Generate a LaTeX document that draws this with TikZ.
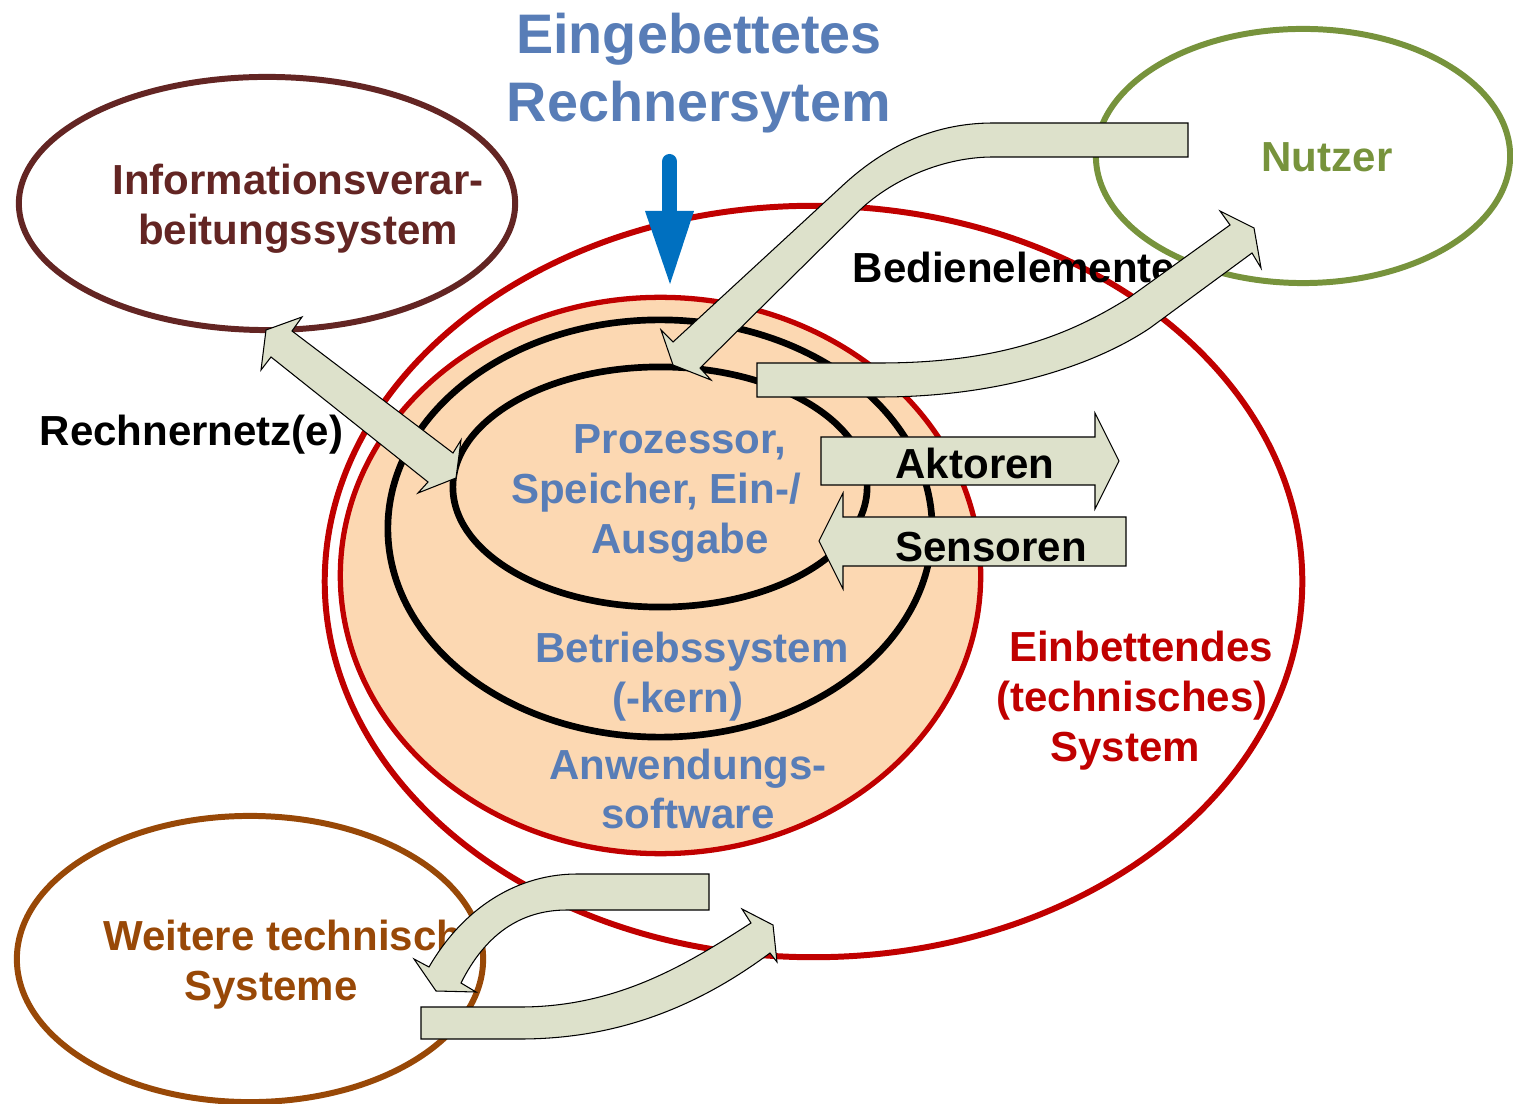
\documentclass[tikz,border=0pt]{standalone}
\usepackage{fontspec}
\setmainfont{Liberation Sans}
\usetikzlibrary{shapes.geometric}

\definecolor{infobrown}{HTML}{632523}
\definecolor{usergreen}{HTML}{77933C}
\definecolor{techbrown}{HTML}{984807}
\definecolor{sysred}{HTML}{C00000}
\definecolor{peach}{HTML}{FCD8B2}
\definecolor{textblue}{HTML}{587DB7}
\definecolor{arrowfill}{HTML}{DDE1CB}
\definecolor{pointerblue}{HTML}{0070C0}

\begin{document}
\begin{tikzpicture}[x=0.01cm,y=-0.01cm,
  sysring/.style={ellipse, inner sep=0pt, outer sep=0pt, line width=1.7pt},
  lbl/.style={inner sep=0pt, align=center, font=\fontsize{11.95}{14.2}\selectfont\bfseries},
  titlelbl/.style={inner sep=0pt, align=center, font=\fontsize{15.85}{19.35}\selectfont\bfseries},
  blockarrow/.style={fill=arrowfill, draw=black, line width=0.3pt, line join=miter},
]
\useasboundingbox (0,0) rectangle (1513,1104);

% surrounding systems
\node[sysring, draw=infobrown, minimum width=4.96cm, minimum height=2.53cm] (info) at (267,203.5) {};
\node[sysring, draw=usergreen, minimum width=4.14cm, minimum height=2.54cm] (user) at (1303,156) {};
\node[sysring, draw=techbrown, minimum width=4.66cm, minimum height=2.86cm] (tech) at (250,959) {};

% embedding system and the layers of the embedded computer
\node[sysring, draw=sysred, minimum width=9.77cm, minimum height=7.51cm] (embedding) at (813.5,581.5) {};
\node[sysring, draw=sysred, fill=peach, line width=1.5pt, minimum width=6.40cm, minimum height=5.56cm] (app) at (660.5,575.5) {};
\node[sysring, draw=black, line width=1.9pt, minimum width=5.44cm, minimum height=4.17cm] (os) at (660,528.5) {};
\node[sysring, draw=black, line width=1.9pt, minimum width=4.14cm, minimum height=2.40cm] (hw) at (660,487) {};

% labels
\node[titlelbl, text=textblue] (title) at (699,73) {Eingebettetes\\Rechnersytem};
\node[lbl, text=infobrown] (infotext) at (298,208.5) {Informationsverar-\\beitungssystem};
\node[lbl, text=usergreen] (usertext) at (1327,157) {Nutzer};
\node[lbl] (bedien) at (1014,267) {Bedienelemente};
\node[lbl] (netz) at (191.5,435) {Rechnernetz(e)};
\node[lbl, text=textblue] (hwtext) at (680,493.5) {Prozessor,\\Speicher, Ein-/\rule{0.48cm}{0pt}\\Ausgabe};
\node[lbl, text=textblue] (ostext) at (692,677) {Betriebssystem\\(-kern)\rule{0.28cm}{0pt}};
\node[lbl, text=textblue] (apptext) at (688,789) {Anwendungs-\\software};
\node[lbl, text=sysred] (embtext) at (1141,700.5) {Einbettendes\\(technisches)\rule{0.18cm}{0pt}\\System\rule{0.32cm}{0pt}};
\node[lbl, text=techbrown] (techtext) at (294.5,964.5) {Weitere technische\\Systeme\rule{0.47cm}{0pt}};

% pointer to the embedded computer
\draw[pointerblue, line width=0.15cm, line cap=round] (669.5,161.5) -- (669.5,215);
\fill[pointerblue] (645,211) -- (694,211) -- (670,284) -- cycle;

% computer network (both directions)
\draw[blockarrow] (266,330) -- (302,317) -- (292,331) -- (453,453) -- (461,440)
  -- (456,478) -- (418,493) -- (428,482) -- (271,357) -- (261,370) -- cycle;

% user -> computer
\draw[blockarrow] (1188,123) -- (993,123) .. controls (930,123) and (880,150) .. (840,188)
  -- (673,342) -- (661,330) -- (673,365) -- (711,380) -- (700,368)
  -- (862,208) .. controls (895,178) and (945,157) .. (993,157) -- (1188,157) -- cycle;

% computer -> user
\draw[blockarrow] (757,363) -- (880,363) .. controls (1000,363) and (1070,335) .. (1130,297)
  -- (1230,225) -- (1220,211) -- (1254,228) -- (1261,268) -- (1252,253)
  -- (1150,328) .. controls (1095,365) and (1000,397) .. (880,397) -- (757,397) -- cycle;

% actuators and sensors
\draw[blockarrow] (821,437) -- (1095,437) -- (1095,413) -- (1119,461) -- (1095,509)
  -- (1095,485) -- (821,485) -- cycle;
\draw[blockarrow] (1126,517) -- (843,517) -- (843,493) -- (819,541) -- (843,589)
  -- (843,566) -- (1126,566) -- cycle;
\node[lbl] (akt) at (975,463) {Aktoren};
\node[lbl] (sens) at (991,547) {Sensoren};

% exchange with further technical systems
\draw[blockarrow] (709,874) -- (577,874) .. controls (520,874) and (465,905) .. (429,967)
  -- (414,959) -- (436,991) -- (476,992) -- (461,983)
  .. controls (485,935) and (520,910) .. (567,910) -- (709,910) -- cycle;
\draw[blockarrow] (421,1007) -- (520,1007) .. controls (620,1007) and (690,962) .. (751,923)
  -- (742,909) -- (773,925) -- (777,962) -- (770,953)
  .. controls (700,1005) and (620,1039) .. (520,1039) -- (421,1039) -- cycle;
\end{tikzpicture}
\end{document}
